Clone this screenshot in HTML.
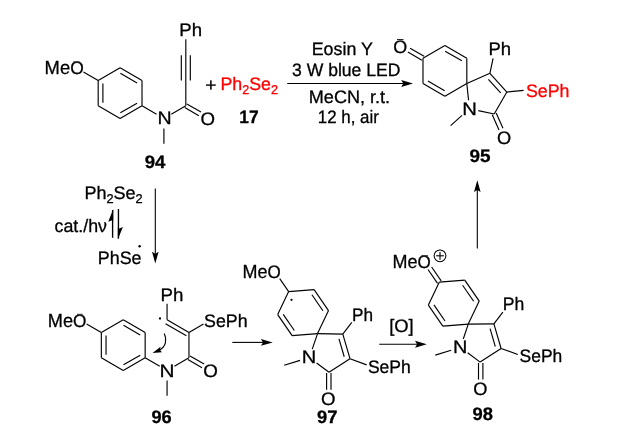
<!DOCTYPE html>
<html><head><meta charset="utf-8"><title>Scheme</title>
<style>
html,body{margin:0;padding:0;background:#fff;}
svg{display:block;font-family:"Liberation Sans",sans-serif;text-rendering:geometricPrecision;will-change:transform;}
</style></head><body>
<svg width="631" height="447" viewBox="0 0 631 447">
<rect width="631" height="447" fill="#fff"/>
<line x1="120.10" y1="67.80" x2="142.01" y2="80.45" stroke="#000" stroke-width="1.15"/>
<line x1="142.01" y1="80.45" x2="142.01" y2="105.75" stroke="#000" stroke-width="1.15"/>
<line x1="142.01" y1="105.75" x2="120.10" y2="118.40" stroke="#000" stroke-width="1.15"/>
<line x1="120.10" y1="118.40" x2="98.19" y2="105.75" stroke="#000" stroke-width="1.15"/>
<line x1="98.19" y1="105.75" x2="98.19" y2="80.45" stroke="#000" stroke-width="1.15"/>
<line x1="98.19" y1="80.45" x2="120.10" y2="67.80" stroke="#000" stroke-width="1.15"/>
<line x1="120.35" y1="73.37" x2="137.06" y2="83.02" stroke="#000" stroke-width="1.15"/>
<line x1="137.06" y1="103.18" x2="120.35" y2="112.83" stroke="#000" stroke-width="1.15"/>
<line x1="102.89" y1="102.75" x2="102.89" y2="83.45" stroke="#000" stroke-width="1.15"/>
<line x1="83.48" y1="71.95" x2="98.19" y2="80.45" stroke="#000" stroke-width="1.15"/>
<line x1="142.01" y1="105.75" x2="156.55" y2="114.15" stroke="#000" stroke-width="1.15"/>
<line x1="171.27" y1="114.15" x2="185.81" y2="105.75" stroke="#000" stroke-width="1.15"/>
<line x1="184.74" y1="107.61" x2="198.84" y2="115.76" stroke="#000" stroke-width="1.15"/>
<line x1="186.89" y1="103.89" x2="200.99" y2="112.04" stroke="#000" stroke-width="1.15"/>
<line x1="163.91" y1="128.40" x2="163.91" y2="143.70" stroke="#000" stroke-width="1.15"/>
<line x1="185.81" y1="105.75" x2="185.81" y2="39.15" stroke="#000" stroke-width="1.15"/>
<line x1="181.31" y1="80.45" x2="181.31" y2="55.15" stroke="#000" stroke-width="1.15"/>
<line x1="190.31" y1="80.45" x2="190.31" y2="55.15" stroke="#000" stroke-width="1.15"/>
<text transform="translate(44.58,74.35) scale(0.9674,1)" font-size="19" fill="#000" stroke="#000" stroke-width="0.3">Me<tspan font-size="18">O</tspan></text>
<line x1="73.20" y1="61.90" x2="79.20" y2="61.90" stroke="#222" stroke-width="0.9"/>
<text transform="translate(179.30,35.55) scale(1.0332,1)" font-size="18.0" fill="#000" stroke="#000" stroke-width="0.3">Ph</text>
<text transform="translate(157.48,124.45) scale(1.0865,1)" font-size="18.0" fill="#000" stroke="#000" stroke-width="0.3">N</text>
<text transform="translate(200.59,124.60) scale(1.0365,1)" font-size="18.0" fill="#000" stroke="#000" stroke-width="0.3">O</text>
<text transform="translate(144.71,168.10) scale(1.0332,1)" font-size="18.0" fill="#000" stroke="#000" stroke-width="0.3" font-weight="bold">94</text>
<text transform="translate(205.23,90.90) scale(1.0648,1)" font-size="18.0" fill="#000" stroke="#000" stroke-width="0.3">+</text>
<text transform="translate(220.41,90.20) scale(0.9882,1)" font-size="18.0" fill="#f00" stroke="#f00" stroke-width="0.3">Ph<tspan font-size="12.8" dy="4.1">2</tspan><tspan dy="-4.1">Se</tspan><tspan font-size="12.8" dy="4.1">2</tspan></text>
<text transform="translate(239.25,123.00) scale(0.9638,1)" font-size="18.0" fill="#000" stroke="#000" stroke-width="0.3" font-weight="bold">17</text>
<text transform="translate(311.71,55.00) scale(0.9900,1)" font-size="18.0" fill="#000" stroke="#000" stroke-width="0.3">Eosin Y</text>
<text transform="translate(292.03,75.70) scale(0.9762,1)" font-size="18.0" fill="#000" stroke="#000" stroke-width="0.3">3 W blue LED</text>
<text transform="translate(308.79,103.00) scale(1.0042,1)" font-size="18.0" fill="#000" stroke="#000" stroke-width="0.3">MeCN, r.t.</text>
<text transform="translate(317.84,123.40) scale(0.9382,1)" font-size="18.0" fill="#000" stroke="#000" stroke-width="0.3">12 h, air</text>
<line x1="287.20" y1="83.50" x2="403.30" y2="83.50" stroke="#000" stroke-width="1.1"/>
<polygon points="413.00,83.50 401.20,86.95 403.30,83.50 401.20,80.05" fill="#000"/>
<line x1="444.90" y1="45.60" x2="466.81" y2="58.25" stroke="#000" stroke-width="1.15"/>
<line x1="466.81" y1="58.25" x2="466.81" y2="83.55" stroke="#000" stroke-width="1.15"/>
<line x1="466.81" y1="83.55" x2="444.90" y2="96.20" stroke="#000" stroke-width="1.15"/>
<line x1="444.90" y1="96.20" x2="422.99" y2="83.55" stroke="#000" stroke-width="1.15"/>
<line x1="422.99" y1="83.55" x2="422.99" y2="58.25" stroke="#000" stroke-width="1.15"/>
<line x1="422.99" y1="58.25" x2="444.90" y2="45.60" stroke="#000" stroke-width="1.15"/>
<line x1="445.15" y1="51.17" x2="461.86" y2="60.82" stroke="#000" stroke-width="1.15"/>
<line x1="444.65" y1="90.63" x2="427.94" y2="80.98" stroke="#000" stroke-width="1.15"/>
<line x1="424.09" y1="56.34" x2="410.07" y2="48.25" stroke="#000" stroke-width="1.15"/>
<line x1="421.89" y1="60.16" x2="407.87" y2="52.06" stroke="#000" stroke-width="1.15"/>
<line x1="466.81" y1="83.55" x2="489.92" y2="73.26" stroke="#000" stroke-width="1.15"/>
<line x1="489.92" y1="73.26" x2="506.85" y2="92.06" stroke="#000" stroke-width="1.15"/>
<line x1="506.85" y1="92.06" x2="494.20" y2="113.97" stroke="#000" stroke-width="1.15"/>
<line x1="494.20" y1="113.97" x2="478.26" y2="110.58" stroke="#000" stroke-width="1.15"/>
<line x1="468.57" y1="100.26" x2="466.81" y2="83.55" stroke="#000" stroke-width="1.15"/>
<line x1="488.40" y1="79.34" x2="500.65" y2="92.94" stroke="#000" stroke-width="1.15"/>
<line x1="489.92" y1="73.26" x2="493.06" y2="58.49" stroke="#000" stroke-width="1.15"/>
<line x1="506.85" y1="92.06" x2="523.56" y2="90.31" stroke="#000" stroke-width="1.15"/>
<line x1="492.24" y1="114.85" x2="499.03" y2="130.10" stroke="#000" stroke-width="1.15"/>
<line x1="496.17" y1="113.10" x2="502.96" y2="128.35" stroke="#000" stroke-width="1.15"/>
<line x1="462.02" y1="115.40" x2="450.65" y2="125.64" stroke="#000" stroke-width="1.15"/>
<text transform="translate(393.32,52.80) scale(0.9969,1)" font-size="18.0" fill="#000" stroke="#000" stroke-width="0.3">O</text>
<line x1="397.00" y1="39.60" x2="403.50" y2="39.60" stroke="#111" stroke-width="1.0"/>
<text transform="translate(488.46,54.65) scale(1.0255,1)" font-size="18.0" fill="#000" stroke="#000" stroke-width="0.3">Ph</text>
<text transform="translate(462.13,115.15) scale(1.1250,1)" font-size="18.0" fill="#000" stroke="#000" stroke-width="0.3">N</text>
<text transform="translate(497.10,143.60) scale(1.0127,1)" font-size="18.0" fill="#000" stroke="#000" stroke-width="0.3">O</text>
<text transform="translate(525.97,96.95) scale(0.9888,1)" font-size="18.0" fill="#f00" stroke="#f00" stroke-width="0.3">SePh</text>
<text transform="translate(469.51,161.60) scale(1.0510,1)" font-size="18.0" fill="#000" stroke="#000" stroke-width="0.3" font-weight="bold">95</text>
<text transform="translate(84.39,198.70) scale(1.0006,1)" font-size="18.0" fill="#000" stroke="#000" stroke-width="0.3">Ph<tspan font-size="12.8" dy="4.1">2</tspan><tspan dy="-4.1">Se</tspan><tspan font-size="12.8" dy="4.1">2</tspan></text>
<text transform="translate(54.55,232.20) scale(0.9880,1)" font-size="18.0" fill="#000" stroke="#000" stroke-width="0.3">cat./hν</text>
<text transform="translate(97.80,263.95) scale(0.9926,1)" font-size="18.0" fill="#000" stroke="#000" stroke-width="0.3">PhSe</text>
<circle cx="139.60" cy="246.20" r="1.2" fill="#000"/>
<line x1="112.60" y1="210.00" x2="112.60" y2="237.80" stroke="#000" stroke-width="1.35"/>
<polygon points="113.2,209.2 108.2,221.8 111.6,220.4 113.2,220.8" fill="#000"/>
<line x1="118.45" y1="209.00" x2="118.45" y2="238.60" stroke="#000" stroke-width="1.35"/>
<polygon points="117.85,239.6 122.9,227.0 119.5,228.4 117.85,228.0" fill="#000"/>
<line x1="155.30" y1="188.50" x2="155.30" y2="253.80" stroke="#000" stroke-width="1.1"/>
<polygon points="155.30,263.50 152.00,251.70 155.30,253.80 158.60,251.70" fill="#000"/>
<line x1="123.25" y1="319.80" x2="145.16" y2="332.45" stroke="#000" stroke-width="1.15"/>
<line x1="145.16" y1="332.45" x2="145.16" y2="357.75" stroke="#000" stroke-width="1.15"/>
<line x1="145.16" y1="357.75" x2="123.25" y2="370.40" stroke="#000" stroke-width="1.15"/>
<line x1="123.25" y1="370.40" x2="101.34" y2="357.75" stroke="#000" stroke-width="1.15"/>
<line x1="101.34" y1="357.75" x2="101.34" y2="332.45" stroke="#000" stroke-width="1.15"/>
<line x1="101.34" y1="332.45" x2="123.25" y2="319.80" stroke="#000" stroke-width="1.15"/>
<line x1="123.50" y1="325.37" x2="140.21" y2="335.02" stroke="#000" stroke-width="1.15"/>
<line x1="140.21" y1="355.18" x2="123.50" y2="364.83" stroke="#000" stroke-width="1.15"/>
<line x1="106.04" y1="354.75" x2="106.04" y2="335.45" stroke="#000" stroke-width="1.15"/>
<line x1="86.63" y1="323.95" x2="101.34" y2="332.45" stroke="#000" stroke-width="1.15"/>
<line x1="145.16" y1="357.75" x2="159.70" y2="366.15" stroke="#000" stroke-width="1.15"/>
<line x1="174.42" y1="366.15" x2="188.96" y2="357.75" stroke="#000" stroke-width="1.15"/>
<line x1="187.89" y1="359.61" x2="201.99" y2="367.76" stroke="#000" stroke-width="1.15"/>
<line x1="190.04" y1="355.89" x2="204.14" y2="364.04" stroke="#000" stroke-width="1.15"/>
<line x1="167.06" y1="380.40" x2="167.06" y2="395.70" stroke="#000" stroke-width="1.15"/>
<line x1="188.96" y1="357.75" x2="188.96" y2="332.45" stroke="#000" stroke-width="1.15"/>
<line x1="188.96" y1="332.45" x2="167.06" y2="319.80" stroke="#000" stroke-width="1.15"/>
<line x1="186.39" y1="335.70" x2="165.53" y2="323.65" stroke="#000" stroke-width="1.15"/>
<line x1="167.06" y1="319.80" x2="167.06" y2="303.80" stroke="#000" stroke-width="1.15"/>
<line x1="188.96" y1="332.45" x2="203.50" y2="324.05" stroke="#000" stroke-width="1.15"/>
<circle cx="160.00" cy="318.50" r="1.15" fill="#000"/>
<path d="M164.3,333.6 C167.2,340 165.8,346.5 159.8,349.9" fill="none" stroke="#000" stroke-width="1.15"/>
<polygon points="152.5,353.0 160.6,346.8 159.9,349.8 161.9,352.2" fill="#000"/>
<text transform="translate(47.80,326.80) scale(0.9570,1)" font-size="19" fill="#000" stroke="#000" stroke-width="0.3">Me<tspan font-size="18">O</tspan></text>
<line x1="77.00" y1="314.30" x2="82.60" y2="314.30" stroke="#222" stroke-width="0.9"/>
<text transform="translate(160.49,300.90) scale(1.0383,1)" font-size="18.0" fill="#000" stroke="#000" stroke-width="0.3">Ph</text>
<text transform="translate(204.08,326.60) scale(0.9864,1)" font-size="18.0" fill="#000" stroke="#000" stroke-width="0.3">SePh</text>
<text transform="translate(159.49,376.60) scale(1.1538,1)" font-size="18.0" fill="#000" stroke="#000" stroke-width="0.3">N</text>
<text transform="translate(203.18,377.30) scale(1.0444,1)" font-size="18.0" fill="#000" stroke="#000" stroke-width="0.3">O</text>
<text transform="translate(151.42,423.10) scale(1.0095,1)" font-size="18.0" fill="#000" stroke="#000" stroke-width="0.3" font-weight="bold">96</text>
<line x1="232.30" y1="342.40" x2="263.00" y2="342.40" stroke="#000" stroke-width="1.1"/>
<polygon points="272.70,342.40 260.90,345.85 263.00,342.40 260.90,338.95" fill="#000"/>
<line x1="317.54" y1="333.62" x2="292.12" y2="335.62" stroke="#000" stroke-width="1.15"/>
<line x1="292.12" y1="335.62" x2="277.68" y2="314.60" stroke="#000" stroke-width="1.15"/>
<line x1="277.68" y1="314.60" x2="288.66" y2="291.58" stroke="#000" stroke-width="1.15"/>
<line x1="288.66" y1="291.58" x2="314.08" y2="289.58" stroke="#000" stroke-width="1.15"/>
<line x1="314.08" y1="289.58" x2="328.52" y2="310.60" stroke="#000" stroke-width="1.15"/>
<line x1="328.52" y1="310.60" x2="317.54" y2="333.62" stroke="#000" stroke-width="1.15"/>
<line x1="294.30" y1="330.48" x2="283.25" y2="314.41" stroke="#000" stroke-width="1.15"/>
<line x1="311.90" y1="294.72" x2="322.95" y2="310.79" stroke="#000" stroke-width="1.15"/>
<line x1="317.54" y1="333.62" x2="342.80" y2="334.10" stroke="#000" stroke-width="1.15"/>
<line x1="342.80" y1="334.10" x2="350.00" y2="358.70" stroke="#000" stroke-width="1.15"/>
<line x1="350.00" y1="358.70" x2="329.00" y2="372.30" stroke="#000" stroke-width="1.15"/>
<line x1="329.00" y1="372.30" x2="316.58" y2="362.92" stroke="#000" stroke-width="1.15"/>
<line x1="312.24" y1="349.17" x2="317.54" y2="333.62" stroke="#000" stroke-width="1.15"/>
<line x1="338.98" y1="338.86" x2="344.22" y2="356.75" stroke="#000" stroke-width="1.15"/>
<line x1="342.80" y1="334.10" x2="351.77" y2="322.32" stroke="#000" stroke-width="1.15"/>
<line x1="350.00" y1="358.70" x2="366.70" y2="364.85" stroke="#000" stroke-width="1.15"/>
<line x1="326.60" y1="373.10" x2="326.60" y2="389.80" stroke="#000" stroke-width="1.15"/>
<line x1="331.00" y1="373.10" x2="331.00" y2="389.80" stroke="#000" stroke-width="1.15"/>
<line x1="300.04" y1="360.40" x2="284.20" y2="365.30" stroke="#000" stroke-width="1.15"/>
<line x1="288.66" y1="291.58" x2="279.71" y2="278.56" stroke="#000" stroke-width="1.15"/>
<circle cx="291.50" cy="299.80" r="1.15" fill="#000"/>
<text transform="translate(242.61,278.35) scale(0.9466,1)" font-size="19" fill="#000" stroke="#000" stroke-width="0.3">Me<tspan font-size="18">O</tspan></text>
<text transform="translate(352.05,320.50) scale(0.9541,1)" font-size="18.0" fill="#000" stroke="#000" stroke-width="0.3">Ph</text>
<text transform="translate(367.89,373.30) scale(0.9722,1)" font-size="18.0" fill="#000" stroke="#000" stroke-width="0.3">SePh</text>
<text transform="translate(301.84,363.10) scale(1.1154,1)" font-size="18.0" fill="#000" stroke="#000" stroke-width="0.3">N</text>
<text transform="translate(320.99,405.40) scale(1.0365,1)" font-size="18.0" fill="#000" stroke="#000" stroke-width="0.3">O</text>
<line x1="468.24" y1="324.12" x2="442.82" y2="326.12" stroke="#000" stroke-width="1.15"/>
<line x1="442.82" y1="326.12" x2="428.38" y2="305.10" stroke="#000" stroke-width="1.15"/>
<line x1="428.38" y1="305.10" x2="439.36" y2="282.08" stroke="#000" stroke-width="1.15"/>
<line x1="439.36" y1="282.08" x2="464.78" y2="280.08" stroke="#000" stroke-width="1.15"/>
<line x1="464.78" y1="280.08" x2="479.22" y2="301.10" stroke="#000" stroke-width="1.15"/>
<line x1="479.22" y1="301.10" x2="468.24" y2="324.12" stroke="#000" stroke-width="1.15"/>
<line x1="445.00" y1="320.98" x2="433.95" y2="304.91" stroke="#000" stroke-width="1.15"/>
<line x1="462.60" y1="285.22" x2="473.65" y2="301.29" stroke="#000" stroke-width="1.15"/>
<line x1="468.24" y1="324.12" x2="493.90" y2="323.90" stroke="#000" stroke-width="1.15"/>
<line x1="493.90" y1="323.90" x2="501.10" y2="348.50" stroke="#000" stroke-width="1.15"/>
<line x1="501.10" y1="348.50" x2="480.10" y2="362.10" stroke="#000" stroke-width="1.15"/>
<line x1="480.10" y1="362.10" x2="467.68" y2="352.72" stroke="#000" stroke-width="1.15"/>
<line x1="463.29" y1="338.95" x2="468.24" y2="324.12" stroke="#000" stroke-width="1.15"/>
<line x1="490.08" y1="328.66" x2="495.32" y2="346.55" stroke="#000" stroke-width="1.15"/>
<line x1="493.90" y1="323.90" x2="502.85" y2="312.12" stroke="#000" stroke-width="1.15"/>
<line x1="501.10" y1="348.50" x2="517.85" y2="354.53" stroke="#000" stroke-width="1.15"/>
<line x1="478.50" y1="362.90" x2="478.50" y2="379.60" stroke="#000" stroke-width="1.15"/>
<line x1="482.90" y1="362.90" x2="482.90" y2="379.60" stroke="#000" stroke-width="1.15"/>
<line x1="451.14" y1="350.20" x2="435.30" y2="355.10" stroke="#000" stroke-width="1.15"/>
<line x1="441.17" y1="280.84" x2="431.65" y2="266.99" stroke="#000" stroke-width="1.15"/>
<line x1="437.54" y1="283.33" x2="428.03" y2="269.49" stroke="#000" stroke-width="1.15"/>
<circle cx="440.0" cy="255.8" r="5.9" fill="none" stroke="#000" stroke-width="1.05"/>
<line x1="436.10" y1="255.80" x2="443.90" y2="255.80" stroke="#000" stroke-width="1.1"/>
<line x1="440.00" y1="251.90" x2="440.00" y2="259.70" stroke="#000" stroke-width="1.1"/>
<text transform="translate(392.61,268.35) scale(0.9466,1)" font-size="19" fill="#000" stroke="#000" stroke-width="0.3">Me<tspan font-size="18">O</tspan></text>
<text transform="translate(502.67,309.80) scale(0.9770,1)" font-size="18.0" fill="#000" stroke="#000" stroke-width="0.3">Ph</text>
<text transform="translate(519.59,362.40) scale(0.9698,1)" font-size="18.0" fill="#000" stroke="#000" stroke-width="0.3">SePh</text>
<text transform="translate(453.06,353.00) scale(1.1058,1)" font-size="18.0" fill="#000" stroke="#000" stroke-width="0.3">N</text>
<text transform="translate(473.30,394.70) scale(1.0127,1)" font-size="18.0" fill="#000" stroke="#000" stroke-width="0.3">O</text>
<line x1="421.40" y1="255.70" x2="428.10" y2="255.70" stroke="#222" stroke-width="0.9"/>
<text transform="translate(317.12,423.30) scale(1.0221,1)" font-size="18.0" fill="#000" stroke="#000" stroke-width="0.3" font-weight="bold">97</text>
<text transform="translate(472.52,419.60) scale(1.0213,1)" font-size="18.0" fill="#000" stroke="#000" stroke-width="0.3" font-weight="bold">98</text>
<text transform="translate(389.17,331.60) scale(1.0235,1)" font-size="18.0" fill="#000" stroke="#000" stroke-width="0.3">[O]</text>
<line x1="379.20" y1="344.30" x2="417.10" y2="344.30" stroke="#000" stroke-width="1.1"/>
<polygon points="426.80,344.30 415.00,347.75 417.10,344.30 415.00,340.85" fill="#000"/>
<line x1="477.30" y1="248.60" x2="477.30" y2="189.90" stroke="#000" stroke-width="1.1"/>
<polygon points="477.30,180.20 480.60,192.00 477.30,189.90 474.00,192.00" fill="#000"/>
</svg>
</body></html>
